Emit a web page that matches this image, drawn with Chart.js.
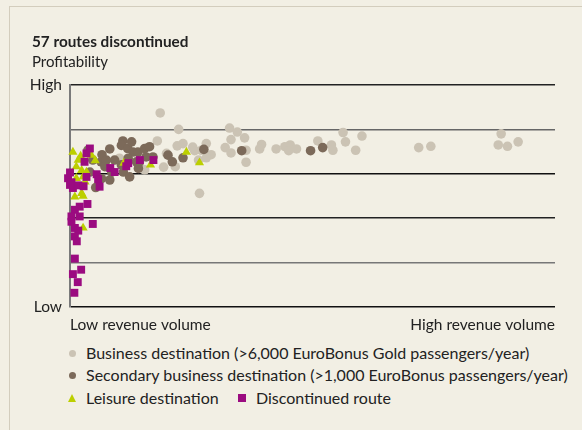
<!DOCTYPE html>
<html>
<head>
<meta charset="utf-8">
<script src="https://cdn.jsdelivr.net/npm/chart.js@4.4.1/dist/chart.umd.min.js"></script>
<style>
  body { margin:0; background:#f2efe4; font-family:Lato, "Open Sans", sans-serif; color:#222; }
  #card { position:absolute; left:9px; top:6px; width:600px; height:450px; border-left:1px solid #d3cdbd; border-top:1px solid #d3cdbd; }
  #wrap { position:relative; width:582px; height:430px; overflow:hidden; }
  canvas { position:absolute; left:0; top:0; }
  .txt { position:absolute; white-space:nowrap; }
  .title { left:32px; top:32px; font-size:15.3px; font-weight:bold; }
  .sub { left:32px; top:52px; font-size:15px; }
  .lg { position:absolute; font-size:16px; line-height:18px; white-space:nowrap; }
  .mk { position:absolute; }
</style>
</head>
<body>
<div id="wrap">
  <div id="card"></div>
  <canvas id="myChart" width="582" height="340"></canvas>
  <div class="txt title">57 routes discontinued</div>
  <div class="txt sub">Profitability</div>
  <div id="legend"></div>
</div>
<script>
// x = revenue volume (0 low .. 100 high), y = profitability (0 low .. 5 high)
const business = [
  [18.6,4.37],[22.4,4.00],[18.0,3.74],[32.9,4.03],[34.5,3.94],[33.2,3.77],[36.0,3.81],[32.0,3.59],
  [33.2,3.47],[36.3,3.53],[36.3,3.26],[26.7,2.56],[22.1,3.63],[23.3,3.68],[25.3,3.60],[25.7,3.52],
  [27.1,3.53],[28.1,3.68],[29.1,3.43],[28.1,3.36],[26.5,3.31],[19.9,3.46],[19.3,3.15],[21.7,3.16],
  [15.4,3.09],[39.5,3.66],[39.1,3.56],[42.5,3.56],[44.3,3.61],[45.4,3.65],[45.1,3.52],[46.7,3.56],
  [51.1,3.74],[53.9,3.65],[54.2,3.53],[56.3,3.93],[56.8,3.72],[60.2,3.85],[58.9,3.53],[71.9,3.59],
  [74.4,3.62],[88.9,3.90],[88.3,3.65],[90.2,3.62],[92.4,3.72],[10.2,3.35],[14.3,3.20]
];
const secondary = [
  [10.9,3.74],[10.6,3.64],[11.9,3.57],[8.2,3.56],[12.7,3.72],[13.0,3.49],[6.6,3.43],[3.7,3.53],
  [4.7,3.31],[6.4,3.27],[7.5,3.31],[9.2,3.31],[10.6,3.20],[12.0,3.35],[13.7,3.27],[14.0,3.49],
  [15.4,3.57],[16.4,3.61],[15.7,3.38],[17.1,3.38],[14.3,3.27],[7.2,3.16],[8.6,3.04],[11.0,3.04],
  [12.3,2.93],[8.2,2.86],[6.5,2.89],[5.3,2.69],[4.1,3.04],[14.1,3.12],[20.2,3.42],[21.1,3.27],
  [23.3,3.36],[27.6,3.55],[35.4,3.52],[49.6,3.52],[52.1,3.59]
];
const leisure = [
  [0.6,3.49],[2.2,3.40],[1.7,3.31],[5.2,3.30],[1.3,3.16],[2.4,3.08],[3.4,3.04],[2.7,2.93],
  [1.3,2.90],[3.1,2.82],[2.4,2.56],[1.0,2.48],[2.7,2.50],[2.7,1.78],[11.1,3.24],[16.6,3.20],
  [24.0,3.49],[26.7,3.25],[4.4,3.42]
];
const discontinued = [
  [4.1,3.57],[3.4,3.46],[3.0,3.27],[0.0,3.03],[-0.4,2.90],[0.3,2.81],[0.6,2.68],[1.7,2.74],
  [2.8,2.72],[3.4,2.93],[5.5,2.99],[5.8,2.88],[6.1,2.71],[8.3,3.13],[9.2,3.04],[11.6,3.17],
  [12.0,3.24],[14.4,3.31],[17.2,3.31],[3.6,2.32],[2.0,2.26],[1.0,2.19],[0.3,2.04],[2.0,2.04],
  [0.3,1.92],[4.7,1.87],[1.0,1.78],[1.7,1.72],[1.0,1.59],[1.4,1.48],[1.0,1.09],[2.3,0.84],
  [0.6,0.74],[1.6,0.56],[0.9,0.32],[0.0,2.75]
];
const seriesNames = [
  'Business destination (>6,000 EuroBonus Gold passengers/year)',
  'Secondary business destination (>1,000 EuroBonus passengers/year)',
  'Leisure destination',
  'Discontinued route'
];
const colors = ['#cbc3b4', '#7c6a5a', '#bccf00', '#9b0b80'];

const toPts = arr => arr.map(p => ({x: p[0], y: p[1]}));
const gridColors = {0:'#111', 1:'#777', 2:'#222', 3:'#111', 4:'#666', 5:'#222'};

function ds(i, data, style, r, order){
  return {
    label: seriesNames[i],
    data: toPts(data),
    backgroundColor: colors[i],
    borderColor: colors[i],
    borderWidth: 0,
    pointStyle: style,
    pointRadius: r,
    order: order,
    clip: false
  };
}

const ctx = document.getElementById('myChart');
new Chart(ctx, {
  type: 'scatter',
  data: {
    datasets: [
      ds(0, business, 'circle', 4.8, 4),
      ds(1, secondary, 'circle', 4.8, 3),
      ds(2, leisure, 'triangle', 5.3, 2),
      ds(3, discontinued, 'rect', 5.6, 1)
    ]
  },
  options: {
    responsive: false,
    animation: false,
    layout: { padding: { top: 85, right: 27, left: 0, bottom: 0 } },
    plugins: { legend: { display: false }, tooltip: { enabled: false } },
    scales: {
      x: {
        type: 'linear', min: 0, max: 100,
        afterFit: s => { s.height = 33; },
        grid: { display: false, drawTicks: false },
        border: { display: false },
        ticks: {
          stepSize: 100, align: 'inner', padding: 9, maxRotation: 0, autoSkip: false,
          color: '#222', font: { family: 'Lato', size: 15.5 },
          callback: v => v === 0 ? 'Low revenue volume' : (v === 100 ? 'High revenue volume' : '')
        }
      },
      y: {
        min: 0, max: 5,
        afterFit: s => { s.width = 70; },
        grid: {
          drawTicks: false,
          color: c => gridColors[c.tick.value] || '#333',
          lineWidth: 1.5
        },
        border: { color: '#7a7a7a', width: 2 },
        ticks: {
          stepSize: 1, padding: 8, color: '#222', font: { family: 'Lato', size: 15.5 },
          callback: v => v === 5 ? 'High' : (v === 0 ? 'Low' : '')
        }
      }
    }
  }
});

// legend
const legendRows = [
  {i:0, x:72, y:353, mk:'circle'},
  {i:1, x:72, y:375, mk:'circle'},
  {i:2, x:72, y:398, mk:'triangle'},
  {i:3, x:242, y:398, mk:'square'}
];
const legend = document.getElementById('legend');
legendRows.forEach(r => {
  const m = document.createElement('div');
  m.className = 'mk';
  if (r.mk === 'circle') {
    m.style.cssText = `left:${r.x-3.5}px;top:${r.y-3.5}px;width:7px;height:7px;border-radius:50%;background:${colors[r.i]}`;
  } else if (r.mk === 'triangle') {
    m.style.cssText = `left:${r.x-4.5}px;top:${r.y-4.5}px;width:0;height:0;border-left:4.5px solid transparent;border-right:4.5px solid transparent;border-bottom:8px solid ${colors[r.i]}`;
  } else {
    m.style.cssText = `left:${r.x-4}px;top:${r.y-4}px;width:8px;height:8px;background:${colors[r.i]}`;
  }
  legend.appendChild(m);
  const t = document.createElement('div');
  t.className = 'lg';
  t.style.left = (r.x + 14) + 'px';
  t.style.top = (r.y - 9) + 'px';
  t.textContent = seriesNames[r.i];
  legend.appendChild(t);
});
</script>
</body>
</html>
